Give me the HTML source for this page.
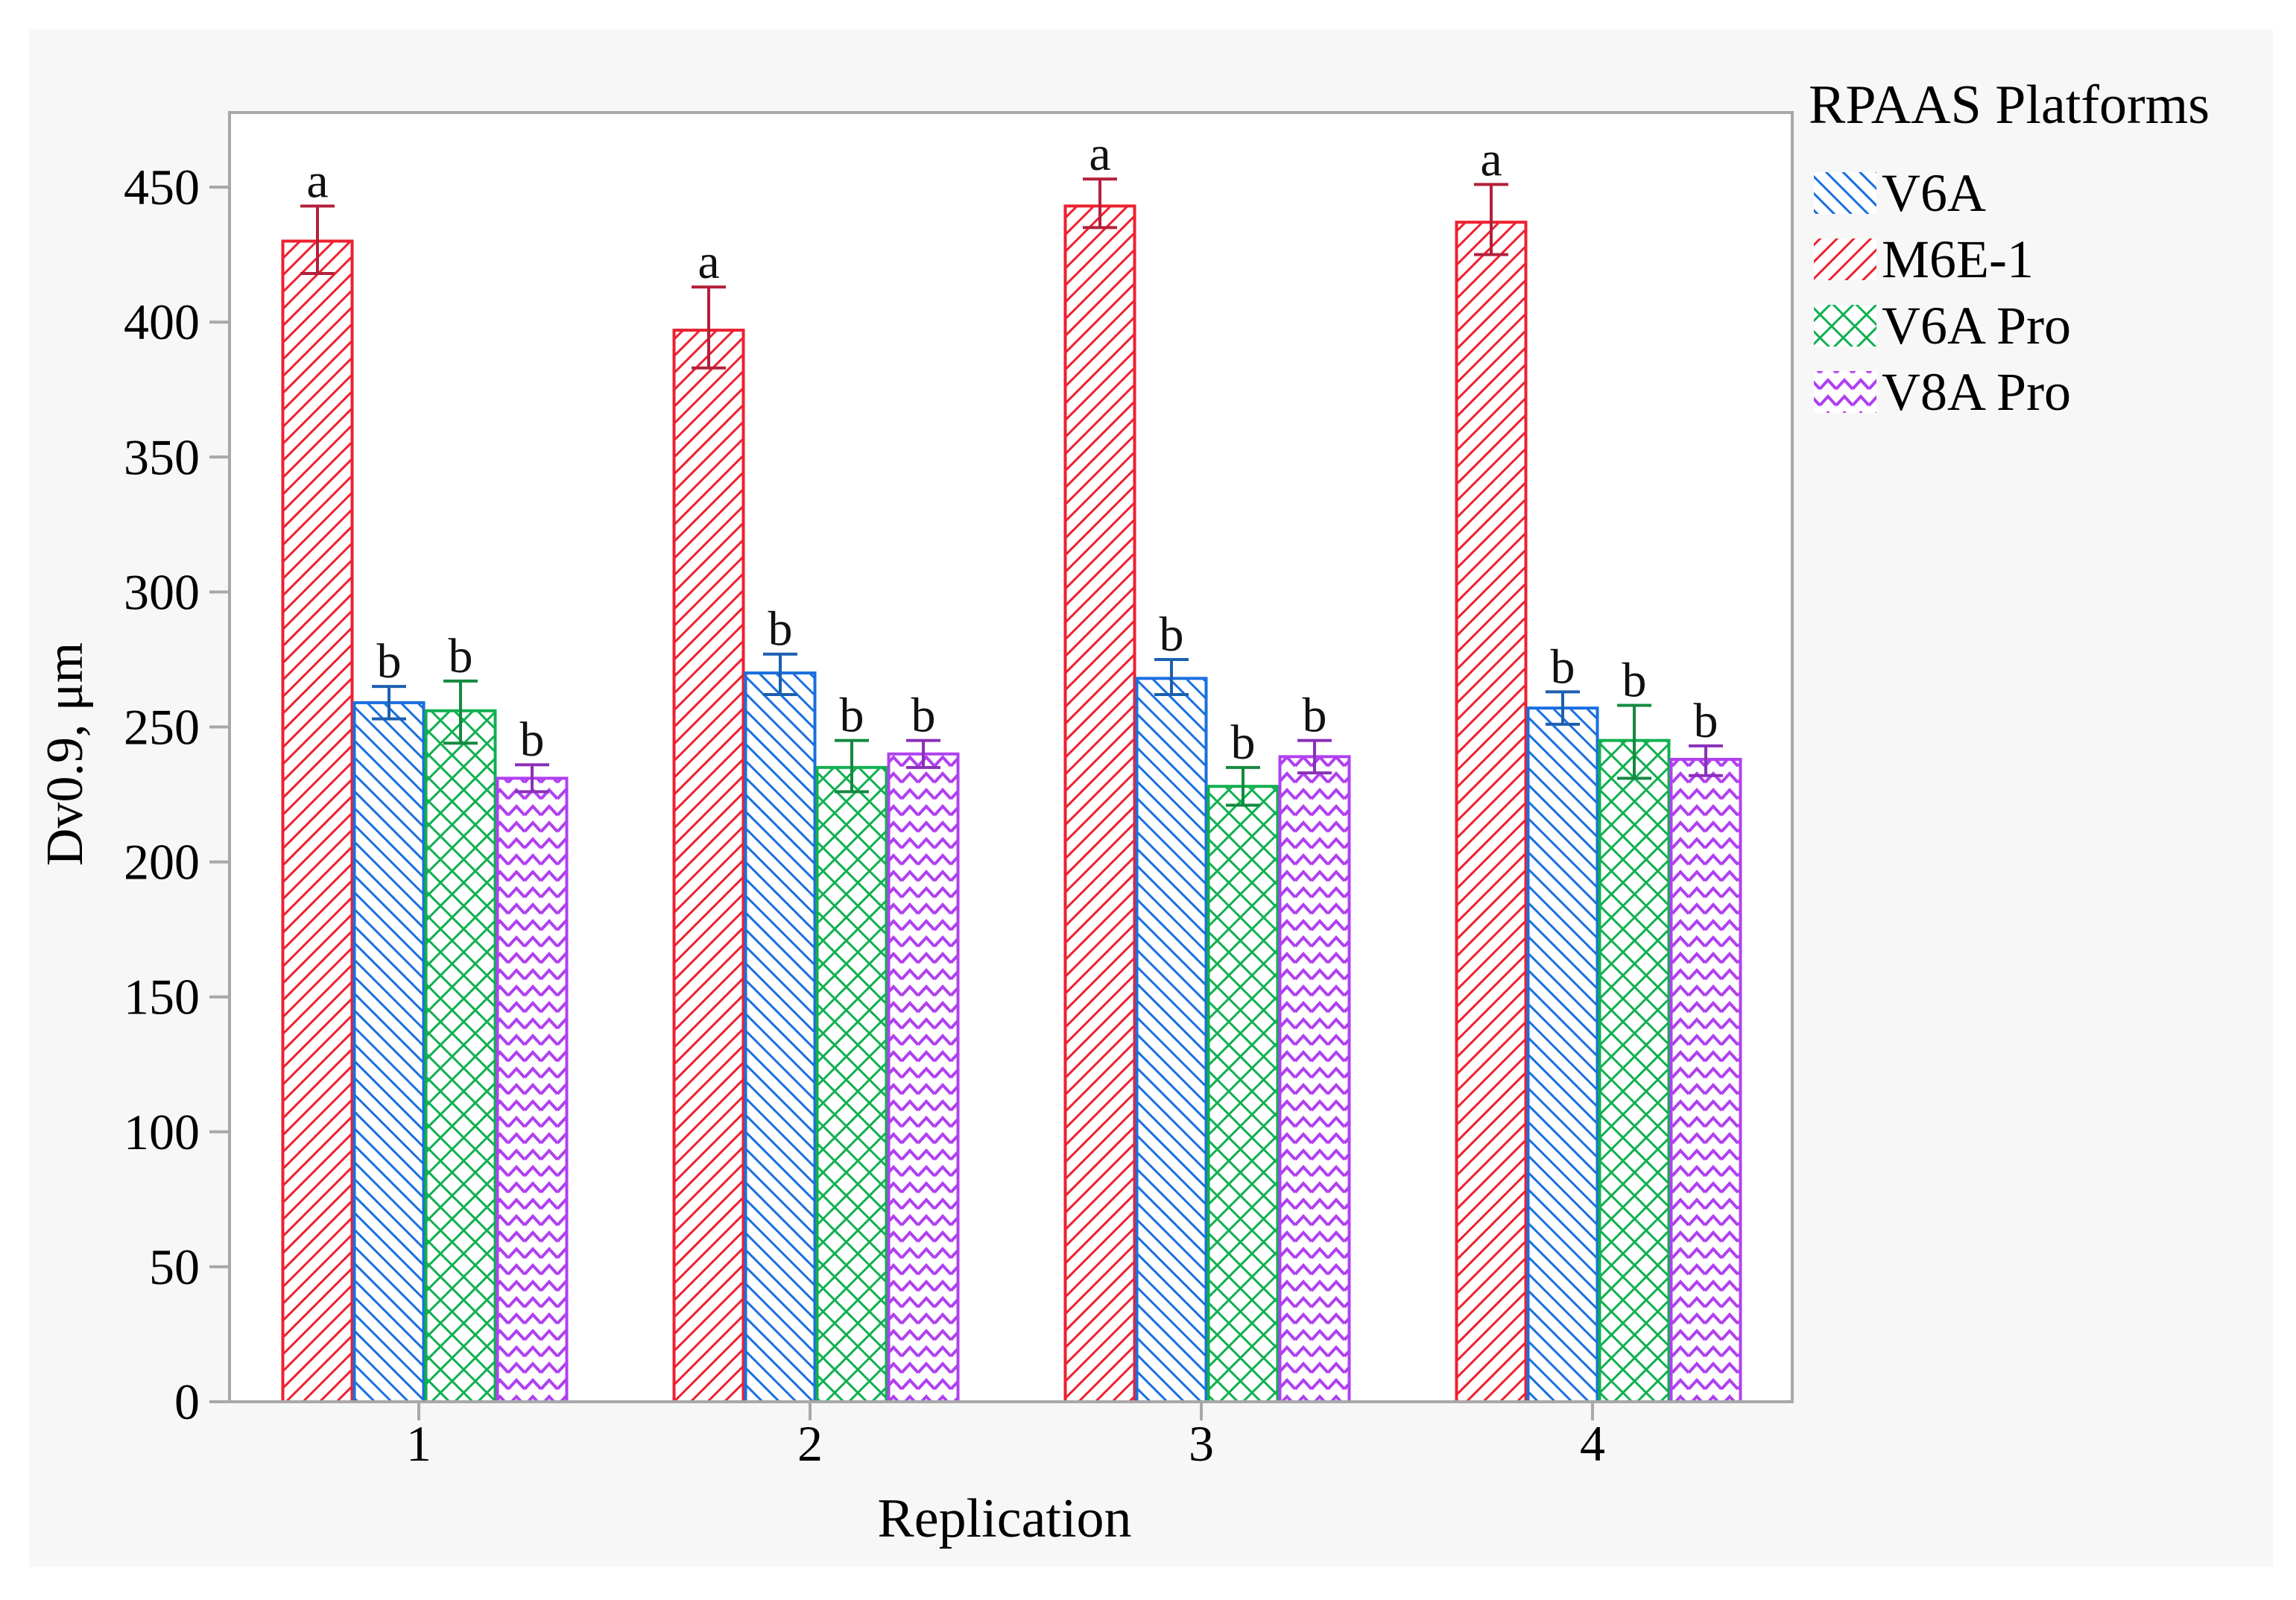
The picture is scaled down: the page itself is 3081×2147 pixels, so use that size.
<!DOCTYPE html>
<html><head><meta charset="utf-8"><style>
html,body{margin:0;padding:0;background:#fff;}
svg{display:block;font-family:"Liberation Serif",serif;}
</style></head><body>
<svg id="chart" width="3081" height="2147" viewBox="0 0 3081 2147" xmlns="http://www.w3.org/2000/svg">
<defs>
<pattern id="p-red" patternUnits="userSpaceOnUse" width="16" height="16" patternTransform="rotate(45)">
<rect width="16" height="16" fill="#fff"/><line x1="0" y1="0" x2="0" y2="16" stroke="#ee2030" stroke-width="6"/></pattern>
<pattern id="p-blue" patternUnits="userSpaceOnUse" width="16" height="16" patternTransform="rotate(-45)">
<rect width="16" height="16" fill="#fff"/><line x1="0" y1="0" x2="0" y2="16" stroke="#1a6fdf" stroke-width="6"/></pattern>
<pattern id="p-green" patternUnits="userSpaceOnUse" width="22" height="22" patternTransform="rotate(45)">
<rect width="22" height="22" fill="#fff"/><line x1="0" y1="0" x2="0" y2="22" stroke="#10b050" stroke-width="6"/><line x1="0" y1="0" x2="22" y2="0" stroke="#10b050" stroke-width="6"/></pattern>
<pattern id="p-purple" patternUnits="userSpaceOnUse" width="22" height="22">
<rect width="22" height="22" fill="#fff"/><polyline points="0,16 11,4 22,16" fill="none" stroke="#b040f0" stroke-width="4"/><polyline points="0,38 11,26 22,38" fill="none" stroke="#b040f0" stroke-width="4"/><polyline points="0,-6 11,-18 22,-6" fill="none" stroke="#b040f0" stroke-width="4"/></pattern>
</defs>
<rect x="39" y="39" width="3011" height="2064" fill="#f7f7f7"/>
<rect x="308" y="151" width="2097" height="1730" fill="#fff"/>
<g id="bars"></g>
<rect x="308" y="151" width="2097" height="1730" fill="none" stroke="#a8a8a8" stroke-width="4"/>
<g id="axes"></g>
<text x="94" y="1012" font-size="70" text-anchor="middle" transform="rotate(-90 94 1012)" dominant-baseline="middle">Dv0.9, μm</text>
<text x="1348" y="2062" font-size="74" text-anchor="middle">Replication</text>
<g id="legend"></g>
</svg>
<script>
const categories = ["1","2","3","4"];
const seriesNames = ["M6E-1","V6A","V6A Pro","V8A Pro"];
const m6eValues = [430, 397, 443, 437];
const m6eLow = [418, 383, 435, 425];
const m6eHigh = [443, 413, 453, 451];
const v6aValues = [259, 270, 268, 257];
const v6aLow = [253, 262, 262, 251];
const v6aHigh = [265, 277, 275, 263];
const v6aproValues = [256, 235, 228, 245];
const v6aproLow = [244, 226, 221, 231];
const v6aproHigh = [267, 245, 235, 258];
const v8aproValues = [231, 240, 239, 238];
const v8aproLow = [226, 235, 233, 232];
const v8aproHigh = [236, 245, 245, 243];
const m6eLetters = ["a","a","a","a"];
const otherLetters = ["b","b","b","b"];
const yTicks = [0,50,100,150,200,250,300,350,400,450];

const NS = "http://www.w3.org/2000/svg";
const y0 = 1881, pxPerUnit = 3.622;
function yScale(v){ return y0 - v * pxPerUnit; }
function xCenter(i){ return 570 + i * 525; }
const barW = 96;
function mk(tag, attrs, parent){ const e = document.createElementNS(NS, tag); for (const k in attrs) e.setAttribute(k, attrs[k]); parent.appendChild(e); return e; }

const axes = document.getElementById('axes');
yTicks.forEach(t => {
  const l = mk('line', {x1:281, x2:308, y1:yScale(t), y2:yScale(t), stroke:'#a8a8a8', 'stroke-width':4}, axes);
  
  
  const tx = mk('text', {x:268, y:yScale(t), 'font-size':68, 'text-anchor':'end', 'dominant-baseline':'central'}, axes);
  tx.textContent = t;
  
  
});
categories.forEach((c, i) => {
  const l = mk('line', {x1:xCenter(i)-8, x2:xCenter(i)-8, y1:1881, y2:1906, stroke:'#a8a8a8', 'stroke-width':4}, axes);
  
  
  const tx = mk('text', {x:xCenter(i)-8, y:1960, 'font-size':68, 'text-anchor':'middle'}, axes);
  tx.textContent = c;
  
  
});

const series = [
  {vals:m6eValues, lo:m6eLow, hi:m6eHigh, fill:'url(#p-red)', stroke:'#ee2030', err:'#b3203a', letters:m6eLetters, name:'m6e-1'},
  {vals:v6aValues, lo:v6aLow, hi:v6aHigh, fill:'url(#p-blue)', stroke:'#1a6fdf', err:'#1c5fb0', letters:otherLetters, name:'v6a'},
  {vals:v6aproValues, lo:v6aproLow, hi:v6aproHigh, fill:'url(#p-green)', stroke:'#10b050', err:'#138a3f', letters:otherLetters, name:'v6a-pro'},
  {vals:v8aproValues, lo:v8aproLow, hi:v8aproHigh, fill:'url(#p-purple)', stroke:'#b040f0', err:'#8a30b8', letters:otherLetters, name:'v8a-pro'}
];
const bars = document.getElementById('bars');
categories.forEach((c, i) => {
  series.forEach((s, j) => {
    const x = xCenter(i) - 2*barW + j*barW;
    const yv = yScale(s.vals[i]);
    const r = mk('rect', {x:x+1.5, y:yv, width:barW-3, height:y0-yv, fill:s.fill, stroke:s.stroke, 'stroke-width':4}, bars);
    
    
    const cx = x + barW/2, yl = yScale(s.lo[i]), yh = yScale(s.hi[i]);
    const g = mk('g', {stroke:s.err, 'stroke-width':4}, bars);
    
    
    mk('line', {x1:cx, x2:cx, y1:yl, y2:yh}, g);
    mk('line', {x1:cx-23, x2:cx+23, y1:yl, y2:yl}, g);
    mk('line', {x1:cx-23, x2:cx+23, y1:yh, y2:yh}, g);
    const t = mk('text', {x:cx, y:yh-12, 'font-size':66, 'text-anchor':'middle', fill:'#111'}, bars);
    t.textContent = s.letters[i];
    
    
  });
});

const legend = document.getElementById('legend');
const lt = mk('text', {x:2427, y:165, 'font-size':74}, legend);
lt.textContent = 'RPAAS Platforms';


const legendOrder = [1, 0, 2, 3];
legendOrder.forEach((si, k) => {
  const s = series[si];
  const cy = 259 + k * 89;
  const g = mk('g', {}, legend);
  
  
  mk('rect', {x:2434, y:cy-28, width:84, height:56, fill:s.fill}, g);
  const t = mk('text', {x:2525, y:cy, 'font-size':72, 'dominant-baseline':'central'}, g);
  t.textContent = seriesNames[si];
});
</script>
</body></html>
